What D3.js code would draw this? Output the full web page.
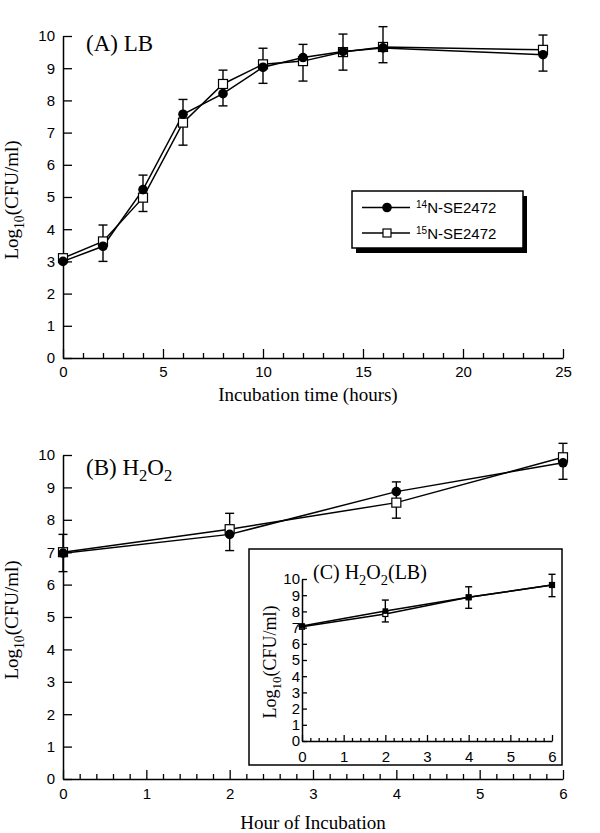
<!DOCTYPE html>
<html>
<head>
<meta charset="utf-8">
<script src="https://cdn.jsdelivr.net/npm/d3@7"></script>
<style>
  body { margin: 0; background: #fff; }
  svg { display: block; }
</style>
</head>
<body>
<script>
// (A) LB growth
const hoursA = [0, 2, 4, 6, 8, 10, 12, 14, 16, 24];
const lbN14 = [3.0, 3.47, 5.23, 7.57, 8.21, 9.03, 9.33, 9.52, 9.63, 9.42];
const lbN15 = [3.1, 3.62, 4.98, 7.31, 8.51, 9.12, 9.22, 9.5, 9.66, 9.57];
const lbLo = [3.05, 3.0, 4.55, 6.61, 7.83, 8.53, 8.6, 8.94, 9.17, 8.91];
const lbHi = [3.05, 4.13, 5.68, 8.03, 8.94, 9.62, 9.74, 10.06, 10.29, 10.03];

// (B) H2O2
const hoursB = [0, 2, 4, 6];
const hpN14 = [6.97, 7.55, 8.87, 9.76];
const hpN15 = [7.0, 7.71, 8.53, 9.93];
const hpLo = [6.4, 7.05, 8.05, 9.25];
const hpHi = [7.55, 8.2, 9.17, 10.36];

// (C) H2O2(LB) inset
const hoursC = [0, 2, 4, 6];
const hlN14 = [7.1, 8.02, 8.87, 9.63];
const hlN15 = [7.05, 7.84, 8.87, 9.63];
const hlLo = [7.1, 7.35, 8.19, 8.91];
const hlHi = [7.1, 8.7, 9.52, 10.29];

const yTicks = [0, 1, 2, 3, 4, 5, 6, 7, 8, 9, 10];
const xTicksA = [0, 5, 10, 15, 20, 25];
const xTicksB = [0, 1, 2, 3, 4, 5, 6];
const legendNames = [["14", "N-SE2472"], ["15", "N-SE2472"]];

const SANS = "Liberation Sans, Arial, sans-serif";
const SERIF = "Liberation Serif, Times New Roman, serif";

const svg = d3.select("body").append("svg").attr("width", 600).attr("height", 833);

function styleAxis(g, size) {
  g.attr("font-family", SANS).attr("font-size", size);
  g.selectAll("text").attr("fill", "#000");
  g.select(".domain").attr("stroke", "#000").attr("stroke-width", 1.5);
  g.selectAll(".tick line").attr("stroke", "#000").attr("stroke-width", 1.3);
}

function drawAxes(x, y, xMajor, xMinor, o) {
  const y0 = y(0);
  const gx = svg.append("g").attr("transform", "translate(0," + y0 + ")")
    .call(d3.axisBottom(x).tickValues(xMajor).tickSizeInner(-o.major).tickSizeOuter(0)
      .tickPadding(o.padX).tickFormat(d3.format("d")));
  styleAxis(gx, o.font);
  const gm = svg.append("g").attr("transform", "translate(0," + y0 + ")")
    .call(d3.axisBottom(x).tickValues(xMinor).tickSizeInner(-o.minor).tickSizeOuter(0).tickFormat(""));
  gm.select(".domain").remove();
  styleAxis(gm, o.font);

  const gy = svg.append("g").attr("transform", "translate(" + x(0) + ",0)")
    .call(d3.axisLeft(y).tickValues(yTicks).tickSizeInner(-o.yTick).tickSizeOuter(0)
      .tickPadding(o.padY).tickFormat(d3.format("d")));
  styleAxis(gy, o.font);
}

function drawSeries(g, x, y, xs, a, b, lo, hi, o) {
  const line = d3.line().x((d) => x(d[0])).y((d) => y(d[1]));
  [a, b].forEach((s) => {
    g.append("path")
      .attr("d", line(xs.map((v, i) => [v, s[i]])))
      .attr("fill", "none").attr("stroke", "#000").attr("stroke-width", 1.5);
  });
  // error bars
  xs.forEach((v, i) => {
    const cx = x(v);
    g.append("line").attr("x1", cx).attr("x2", cx).attr("y1", y(lo[i])).attr("y2", y(hi[i]))
      .attr("stroke", "#000").attr("stroke-width", 1.4);
    [lo[i], hi[i]].forEach((e) => {
      g.append("line").attr("x1", cx - o.cap).attr("x2", cx + o.cap).attr("y1", y(e)).attr("y2", y(e))
        .attr("stroke", "#000").attr("stroke-width", 1.4);
    });
  });
  // open squares (15N)
  g.selectAll(null).data(xs).join("rect")
    .attr("x", (d) => x(d) - o.sq / 2)
    .attr("y", (d, i) => y(b[i]) - o.sq / 2)
    .attr("width", o.sq).attr("height", o.sq)
    .attr("fill", "#fff").attr("stroke", "#000").attr("stroke-width", 1.2);
  // filled markers (14N)
  if (o.circle) {
    g.selectAll(null).data(xs).join("circle")
      .attr("cx", (d) => x(d)).attr("cy", (d, i) => y(a[i])).attr("r", o.r).attr("fill", "#000");
  } else {
    g.selectAll(null).data(xs).join("rect")
      .attr("x", (d) => x(d) - o.r).attr("y", (d, i) => y(a[i]) - o.r)
      .attr("width", o.r * 2).attr("height", o.r * 2).attr("fill", "#000");
  }
}

function yTitle(cx, cy, size) {
  const t = svg.append("text")
    .attr("transform", "translate(" + cx + "," + cy + ") rotate(-90)")
    .attr("text-anchor", "middle").attr("font-family", SERIF).attr("font-size", size);
  t.append("tspan").text("Log");
  t.append("tspan").text("10").attr("font-size", size * 0.72).attr("dy", size * 0.3);
  t.append("tspan").text("(CFU/ml)").attr("dy", -size * 0.3);
}

function h2o2Title(x, y, label, tail, size) {
  const t = svg.append("text").attr("x", x).attr("y", y)
    .attr("font-family", SERIF).attr("font-size", size);
  t.append("tspan").text(label + " H");
  t.append("tspan").text("2").attr("font-size", size * 0.72).attr("dy", size * 0.28);
  t.append("tspan").text("O").attr("dy", -size * 0.28);
  t.append("tspan").text("2").attr("font-size", size * 0.72).attr("dy", size * 0.28);
  if (tail) t.append("tspan").text(tail).attr("dy", -size * 0.28);
}

// ---------- Panel A ----------
const xA = d3.scaleLinear().domain([0, 25]).range([63, 563]);
const yA = d3.scaleLinear().domain([0, 10]).range([358, 36]);
drawAxes(xA, yA, xTicksA, d3.range(0, 26).filter((d) => d % 5 !== 0),
  { major: 9, minor: 5, yTick: 9, padX: 8, padY: 8, font: 15 });
drawSeries(svg.append("g"), xA, yA, hoursA, lbN14, lbN15, lbLo, lbHi,
  { cap: 4.5, sq: 9, r: 4.8, circle: true });

svg.append("text").attr("x", 86).attr("y", 51).attr("font-family", SERIF).attr("font-size", 23).text("(A) LB");
svg.append("text").attr("x", 308).attr("y", 401).attr("text-anchor", "middle")
  .attr("font-family", SERIF).attr("font-size", 19).text("Incubation time (hours)");
yTitle(18, 200, 19);

// legend
const lg = svg.append("g");
lg.append("rect").attr("x", 356).attr("y", 196).attr("width", 171).attr("height", 57).attr("fill", "#000");
lg.append("rect").attr("x", 352).attr("y", 191).attr("width", 171).attr("height", 57)
  .attr("fill", "#fff").attr("stroke", "#000").attr("stroke-width", 1.5);
legendNames.forEach((n, i) => {
  const ly = 207.5 + i * 25.5;
  lg.append("line").attr("x1", 362).attr("x2", 410).attr("y1", ly).attr("y2", ly)
    .attr("stroke", "#000").attr("stroke-width", 1.5);
  if (i === 0) {
    lg.append("circle").attr("cx", 387).attr("cy", ly).attr("r", 4.8).attr("fill", "#000");
  } else {
    lg.append("rect").attr("x", 383).attr("y", ly - 4).attr("width", 8).attr("height", 8)
      .attr("fill", "#fff").attr("stroke", "#000").attr("stroke-width", 1.2);
  }
  const t = lg.append("text").attr("x", 416).attr("y", ly + 5.5).attr("font-family", SANS).attr("font-size", 15);
  t.append("tspan").text(n[0]).attr("font-size", 10).attr("dy", -5);
  t.append("tspan").text(n[1]).attr("dy", 5);
});

// ---------- Panel B ----------
const xB = d3.scaleLinear().domain([0, 6]).range([63, 563]);
const yB = d3.scaleLinear().domain([0, 10]).range([779, 455]);
const minorB = d3.range(0, 31).filter((i) => i % 5 !== 0).map((i) => i / 5);
drawAxes(xB, yB, xTicksB, minorB, { major: 9, minor: 5, yTick: 9, padX: 9, padY: 8, font: 15 });
drawSeries(svg.append("g"), xB, yB, hoursB, hpN14, hpN15, hpLo, hpHi,
  { cap: 4.5, sq: 9, r: 4.8, circle: true });
h2o2Title(86, 475, "(B)", null, 23);
svg.append("text").attr("x", 313).attr("y", 829).attr("text-anchor", "middle")
  .attr("font-family", SERIF).attr("font-size", 19).text("Hour of Incubation");
yTitle(18, 620, 19);

// ---------- Inset C ----------
svg.append("rect").attr("x", 249).attr("y", 549).attr("width", 313).attr("height", 216)
  .attr("fill", "#fff").attr("stroke", "#000").attr("stroke-width", 1.5);
const xC = d3.scaleLinear().domain([0, 6]).range([302, 552]);
const yC = d3.scaleLinear().domain([0, 10]).range([741, 579]);
drawAxes(xC, yC, xTicksB, minorB, { major: 6, minor: 3, yTick: 5, padX: 10, padY: 2, font: 15 });
drawSeries(svg.append("g"), xC, yC, hoursC, hlN14, hlN15, hlLo, hlHi,
  { cap: 3.5, sq: 5, r: 2.8, circle: false });
h2o2Title(313, 579, "(C)", "(LB)", 20);
yTitle(276, 662, 18);
</script>
</body>
</html>
